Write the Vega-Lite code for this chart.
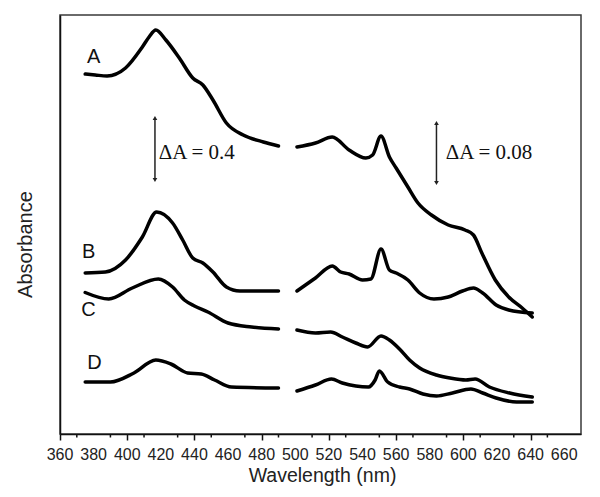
{
  "$schema": "https://vega.github.io/schema/vega-lite/v6.json",
  "width": 521,
  "height": 419,
  "autosize": {"type": "none"},
  "padding": {"left": 60, "top": 15, "right": 19, "bottom": 63},
  "background": "white",
  "config": {
    "view": {"stroke": "#3a3a3a", "strokeWidth": 1.5},
    "axis": {"grid": false}
  },
  "datasets": {
    "curves": [
      {"curve": "A1", "nm": 375, "v": 360}, {"curve": "A1", "nm": 381, "v": 359}, {"curve": "A1", "nm": 388, "v": 358}, {"curve": "A1", "nm": 399, "v": 366}, {"curve": "A1", "nm": 409, "v": 387}, {"curve": "A1", "nm": 413, "v": 397}, {"curve": "A1", "nm": 417, "v": 404}, {"curve": "A1", "nm": 423, "v": 394}, {"curve": "A1", "nm": 431, "v": 376}, {"curve": "A1", "nm": 439, "v": 356}, {"curve": "A1", "nm": 445, "v": 349}, {"curve": "A1", "nm": 451, "v": 334}, {"curve": "A1", "nm": 459, "v": 311}, {"curve": "A1", "nm": 469, "v": 299}, {"curve": "A1", "nm": 481, "v": 292}, {"curve": "A1", "nm": 490, "v": 288},
      {"curve": "A2", "nm": 501, "v": 287}, {"curve": "A2", "nm": 512, "v": 291}, {"curve": "A2", "nm": 522, "v": 297}, {"curve": "A2", "nm": 532, "v": 284}, {"curve": "A2", "nm": 542, "v": 276}, {"curve": "A2", "nm": 546, "v": 279}, {"curve": "A2", "nm": 551, "v": 298}, {"curve": "A2", "nm": 556, "v": 277}, {"curve": "A2", "nm": 560, "v": 266}, {"curve": "A2", "nm": 567, "v": 247}, {"curve": "A2", "nm": 573, "v": 231}, {"curve": "A2", "nm": 581, "v": 219}, {"curve": "A2", "nm": 591, "v": 209}, {"curve": "A2", "nm": 601, "v": 204}, {"curve": "A2", "nm": 606, "v": 199}, {"curve": "A2", "nm": 611, "v": 181}, {"curve": "A2", "nm": 619, "v": 154}, {"curve": "A2", "nm": 627, "v": 137}, {"curve": "A2", "nm": 635, "v": 126}, {"curve": "A2", "nm": 641, "v": 117},
      {"curve": "B1", "nm": 375, "v": 161}, {"curve": "B1", "nm": 387, "v": 162}, {"curve": "B1", "nm": 399, "v": 174}, {"curve": "B1", "nm": 409, "v": 197}, {"curve": "B1", "nm": 417.5, "v": 222}, {"curve": "B1", "nm": 427, "v": 211}, {"curve": "B1", "nm": 433, "v": 194}, {"curve": "B1", "nm": 439, "v": 176}, {"curve": "B1", "nm": 445, "v": 171}, {"curve": "B1", "nm": 451, "v": 162}, {"curve": "B1", "nm": 459, "v": 147}, {"curve": "B1", "nm": 467, "v": 143}, {"curve": "B1", "nm": 490, "v": 143},
      {"curve": "B2", "nm": 501, "v": 143}, {"curve": "B2", "nm": 512, "v": 156}, {"curve": "B2", "nm": 522, "v": 168}, {"curve": "B2", "nm": 527, "v": 162}, {"curve": "B2", "nm": 532, "v": 160}, {"curve": "B2", "nm": 540, "v": 154}, {"curve": "B2", "nm": 545, "v": 155}, {"curve": "B2", "nm": 551, "v": 185}, {"curve": "B2", "nm": 556, "v": 164}, {"curve": "B2", "nm": 560, "v": 161}, {"curve": "B2", "nm": 567, "v": 154}, {"curve": "B2", "nm": 574, "v": 141}, {"curve": "B2", "nm": 582.5, "v": 135}, {"curve": "B2", "nm": 591, "v": 137}, {"curve": "B2", "nm": 599.5, "v": 143}, {"curve": "B2", "nm": 606, "v": 146}, {"curve": "B2", "nm": 611.5, "v": 141}, {"curve": "B2", "nm": 619.5, "v": 129}, {"curve": "B2", "nm": 627, "v": 124}, {"curve": "B2", "nm": 641, "v": 121},
      {"curve": "C1", "nm": 375, "v": 141.5}, {"curve": "C1", "nm": 389, "v": 135}, {"curve": "C1", "nm": 403, "v": 146}, {"curve": "C1", "nm": 418.5, "v": 155}, {"curve": "C1", "nm": 427, "v": 147}, {"curve": "C1", "nm": 434, "v": 134}, {"curve": "C1", "nm": 440, "v": 128}, {"curve": "C1", "nm": 448, "v": 122}, {"curve": "C1", "nm": 460, "v": 111}, {"curve": "C1", "nm": 474, "v": 107}, {"curve": "C1", "nm": 490, "v": 105},
      {"curve": "C2", "nm": 501, "v": 104}, {"curve": "C2", "nm": 512, "v": 101}, {"curve": "C2", "nm": 521, "v": 102}, {"curve": "C2", "nm": 528, "v": 97}, {"curve": "C2", "nm": 536, "v": 91}, {"curve": "C2", "nm": 543, "v": 87}, {"curve": "C2", "nm": 551, "v": 98}, {"curve": "C2", "nm": 556, "v": 94}, {"curve": "C2", "nm": 562, "v": 85}, {"curve": "C2", "nm": 568, "v": 74}, {"curve": "C2", "nm": 574, "v": 66}, {"curve": "C2", "nm": 584, "v": 59}, {"curve": "C2", "nm": 592, "v": 56}, {"curve": "C2", "nm": 601.5, "v": 54}, {"curve": "C2", "nm": 607, "v": 55}, {"curve": "C2", "nm": 615.5, "v": 47}, {"curve": "C2", "nm": 627.5, "v": 41}, {"curve": "C2", "nm": 641, "v": 37},
      {"curve": "D1", "nm": 375, "v": 52}, {"curve": "D1", "nm": 390, "v": 52}, {"curve": "D1", "nm": 404, "v": 61}, {"curve": "D1", "nm": 417, "v": 74}, {"curve": "D1", "nm": 426, "v": 70}, {"curve": "D1", "nm": 436, "v": 61}, {"curve": "D1", "nm": 444, "v": 60}, {"curve": "D1", "nm": 452, "v": 54}, {"curve": "D1", "nm": 462, "v": 47}, {"curve": "D1", "nm": 490, "v": 46},
      {"curve": "D2", "nm": 501, "v": 43}, {"curve": "D2", "nm": 512, "v": 49}, {"curve": "D2", "nm": 521.5, "v": 55}, {"curve": "D2", "nm": 528, "v": 51}, {"curve": "D2", "nm": 536, "v": 48}, {"curve": "D2", "nm": 543.5, "v": 47}, {"curve": "D2", "nm": 547.5, "v": 54}, {"curve": "D2", "nm": 550, "v": 63}, {"curve": "D2", "nm": 555, "v": 52}, {"curve": "D2", "nm": 562, "v": 47}, {"curve": "D2", "nm": 568, "v": 45}, {"curve": "D2", "nm": 576, "v": 40}, {"curve": "D2", "nm": 584, "v": 38}, {"curve": "D2", "nm": 593.5, "v": 41}, {"curve": "D2", "nm": 604.5, "v": 45}, {"curve": "D2", "nm": 611.5, "v": 41}, {"curve": "D2", "nm": 619.5, "v": 36}, {"curve": "D2", "nm": 631.7, "v": 32}, {"curve": "D2", "nm": 641, "v": 32}
    ],
    "letters": [
      {"nm": 380, "v": 377, "label": "A"},
      {"nm": 377, "v": 182, "label": "B"},
      {"nm": 377, "v": 124, "label": "C"},
      {"nm": 380.5, "v": 71, "label": "D"}
    ],
    "deltas": [
      {"nm": 418.7, "v": 281, "label": "ΔA = 0.4"},
      {"nm": 589.5, "v": 281, "label": "ΔA = 0.08"}
    ],
    "arrows": [
      {"nm": 416.5, "v": 254, "v2": 316},
      {"nm": 584, "v": 251, "v2": 311}
    ],
    "minor": [
      {"nm": 370, "v": 0, "v2": -3.5}, {"nm": 390, "v": 0, "v2": -3.5}, {"nm": 410, "v": 0, "v2": -3.5}, {"nm": 430, "v": 0, "v2": -3.5}, {"nm": 450, "v": 0, "v2": -3.5}, {"nm": 470, "v": 0, "v2": -3.5}, {"nm": 490, "v": 0, "v2": -3.5}, {"nm": 510, "v": 0, "v2": -3.5}, {"nm": 530, "v": 0, "v2": -3.5}, {"nm": 550, "v": 0, "v2": -3.5}, {"nm": 570, "v": 0, "v2": -3.5}, {"nm": 590, "v": 0, "v2": -3.5}, {"nm": 610, "v": 0, "v2": -3.5}, {"nm": 630, "v": 0, "v2": -3.5}, {"nm": 650, "v": 0, "v2": -3.5}
    ],
    "ticklabels": [
      {"nm": 360, "v": 0, "label": "360"}, {"nm": 380, "v": 0, "label": "380"}, {"nm": 400, "v": 0, "label": "400"}, {"nm": 420, "v": 0, "label": "420"}, {"nm": 440, "v": 0, "label": "440"}, {"nm": 460, "v": 0, "label": "460"}, {"nm": 480, "v": 0, "label": "480"}, {"nm": 500, "v": 0, "label": "500"}, {"nm": 520, "v": 0, "label": "520"}, {"nm": 540, "v": 0, "label": "540"}, {"nm": 560, "v": 0, "label": "560"}, {"nm": 580, "v": 0, "label": "580"}, {"nm": 600, "v": 0, "label": "600"}, {"nm": 620, "v": 0, "label": "620"}, {"nm": 640, "v": 0, "label": "640"}, {"nm": 660, "v": 0, "label": "660"}
    ]
  },
  "layer": [
    {
      "data": {"name": "curves"},
      "mark": {"type": "line", "color": "black", "strokeWidth": 3.5, "interpolate": "monotone", "strokeCap": "round", "strokeJoin": "round"},
      "encoding": {
        "x": {
          "field": "nm", "type": "quantitative",
          "scale": {"domain": [360, 670], "nice": false, "zero": false},
          "axis": {
            "title": "Wavelength (nm)",
            "values": [360,380,400,420,440,460,480,500,520,540,560,580,600,620,640,660],
            "labels": false,
            "tickSize": 6,
            "tickColor": "#111", "tickWidth": 1.5,
            "domainColor": "#111", "domainWidth": 1.5,
            "titleFont": "Liberation Sans", "titleFontSize": 19.5, "titleFontWeight": "normal", "titleColor": "#222",
            "titleX": 262, "titleY": 47, "titleAlign": "center", "titleBaseline": "alphabetic", "titleAnchor": "middle",
            "grid": false
          }
        },
        "y": {
          "field": "v", "type": "quantitative",
          "scale": {"domain": [0, 419], "nice": false},
          "axis": {
            "title": "Absorbance", "labels": false, "ticks": false, "grid": false,
            "domainColor": "#111", "domainWidth": 1.5,
            "titleFont": "Liberation Sans", "titleFontSize": 20, "titleFontWeight": "normal", "titleColor": "#222",
            "titleAngle": -90, "titleX": -35, "titleY": 229, "titleAlign": "center", "titleBaseline": "middle"
          }
        },
        "detail": {"field": "curve", "type": "nominal"}
      }
    },
    {
      "data": {"name": "minor"},
      "mark": {"type": "rule", "color": "#111", "strokeWidth": 1.5, "clip": false},
      "encoding": {
        "x": {"field": "nm", "type": "quantitative"},
        "y": {"field": "v", "type": "quantitative"},
        "y2": {"field": "v2"}
      }
    },
    {
      "data": {"name": "ticklabels"},
      "mark": {"type": "text", "font": "Liberation Sans", "fontSize": 16, "color": "#222", "align": "center", "baseline": "alphabetic", "dy": 26},
      "encoding": {
        "x": {"field": "nm", "type": "quantitative"},
        "y": {"field": "v", "type": "quantitative"},
        "text": {"field": "label"}
      }
    },
    {
      "data": {"name": "arrows"},
      "mark": {"type": "rule", "color": "#222", "strokeWidth": 1.5},
      "encoding": {
        "x": {"field": "nm", "type": "quantitative"},
        "y": {"field": "v", "type": "quantitative"},
        "y2": {"field": "v2"}
      }
    },
    {
      "data": {"name": "arrows"},
      "mark": {"type": "point", "shape": "triangle-up", "filled": true, "color": "#222", "size": 22, "opacity": 1},
      "encoding": {
        "x": {"field": "nm", "type": "quantitative"},
        "y": {"field": "v2", "type": "quantitative"}
      }
    },
    {
      "data": {"name": "arrows"},
      "mark": {"type": "point", "shape": "triangle-down", "filled": true, "color": "#222", "size": 22, "opacity": 1},
      "encoding": {
        "x": {"field": "nm", "type": "quantitative"},
        "y": {"field": "v", "type": "quantitative"}
      }
    },
    {
      "data": {"name": "letters"},
      "mark": {"type": "text", "font": "Liberation Sans", "fontSize": 20, "color": "#111", "align": "center", "baseline": "middle"},
      "encoding": {
        "x": {"field": "nm", "type": "quantitative"},
        "y": {"field": "v", "type": "quantitative"},
        "text": {"field": "label"}
      }
    },
    {
      "data": {"name": "deltas"},
      "mark": {"type": "text", "font": "Liberation Serif", "fontSize": 21, "color": "#111", "align": "left", "baseline": "middle"},
      "encoding": {
        "x": {"field": "nm", "type": "quantitative"},
        "y": {"field": "v", "type": "quantitative"},
        "text": {"field": "label"}
      }
    }
  ]
}
